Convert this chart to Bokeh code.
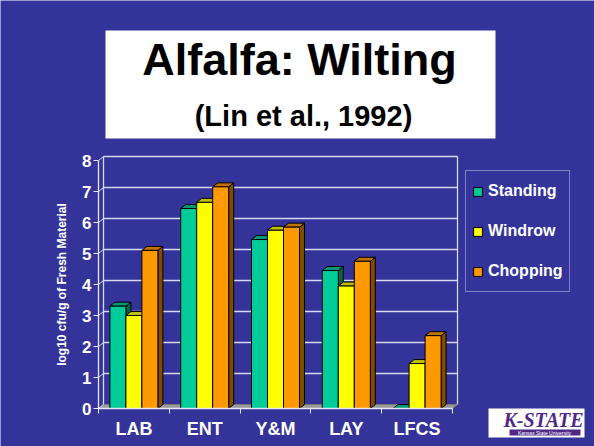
from bokeh.plotting import figure
from bokeh.models import Range1d, FixedTicker, Legend, LegendItem, Label, BoxAnnotation
from bokeh.embed import file_html
from bokeh.resources import INLINE

# ---- data ----
categories = ["LAB", "ENT", "Y&M", "LAY", "LFCS"]
series_names = ["Standing", "Windrow", "Chopping"]
standing = [3.3, 6.45, 5.45, 4.45, 0.0]
windrow = [3.0, 6.65, 5.75, 3.95, 1.45]
chopping = [5.1, 7.15, 5.85, 4.75, 2.35]
y_ticks = [0, 1, 2, 3, 4, 5, 6, 7, 8]
title_text = "Alfalfa: Wilting"
subtitle_text = "(Lin et al., 1992)"
y_title = "log10 cfu/g of Fresh Material"
logo_text = "K-STATE"
logo_sub = "Kansas State University"

series_values = [standing, windrow, chopping]

# ---- styles / layout ----
BG = "#333399"
front_colors = ["#00CC99", "#FFFF00", "#FF9900"]
top_colors = ["#009975", "#BFBF00", "#BF7300"]
side_colors = ["#00664C", "#808000", "#7F4C00"]
FONT = "Liberation Sans"
PURPLE = "#512888"

W, H = 594, 446
n = len(categories)
X0_PX, X1_PX = 98.0, 452.0      # pixel position of category axis ends
Y0_PX = 408.0                   # pixel position of value 0
YS = 31.0                       # px per value unit
XS = (X1_PX - X0_PX) / n        # px per category unit
DX = 5.0 / XS                   # depth offset (x)
DY = 4.0 / YS                   # depth offset (y)
BW = 16.0 / XS                  # bar width
BASE_SHIFT = 0.4                # label baseline correction (em)

def px(xp):
    return (xp - X0_PX) / XS

def py(yp):
    return (Y0_PX - yp) / YS

def text_label(x_px, base_px, text, size, font=FONT, style="bold", color="black"):
    return Label(x=px(x_px), y=py(base_px - BASE_SHIFT * size), text=text,
                 text_align="center", text_baseline="alphabetic", text_font=font,
                 text_font_style=style, text_font_size=f"{size}px", text_color=color)

p = figure(width=W, height=H, output_backend="svg", toolbar_location=None,
           x_range=Range1d(px(0), px(W)), y_range=Range1d(py(H), py(0)),
           min_border=0)
p.min_border_left = 0
p.min_border_right = 0
p.min_border_top = 0
p.min_border_bottom = 0
p.background_fill_color = BG
p.border_fill_color = BG
p.outline_line_color = None
p.xgrid.visible = False
p.ygrid.visible = False

# ---- floor and back wall ----
p.patch([0, n, n + DX, DX], [0, 0, DY, DY], fill_color="#9A9A9A",
        line_color="#7A7A7A", line_width=1)
wall_col = "#D8D8F0"
gt = [t for t in y_ticks if t > 0]
p.segment(x0=[DX] * len(gt), y0=[t + DY for t in gt], x1=[n + DX] * len(gt),
          y1=[t + DY for t in gt], line_color=wall_col, line_width=1.3)
p.segment(x0=[0] * len(y_ticks), y0=y_ticks, x1=[DX] * len(y_ticks),
          y1=[t + DY for t in y_ticks], line_color=wall_col, line_width=1)
p.segment(x0=[DX, n + DX], y0=[DY, DY], x1=[DX, n + DX],
          y1=[max(y_ticks) + DY] * 2, line_color=wall_col, line_width=1.3)

# ---- 3D bars ----
offsets = [-BW, 0.0, BW]
geo = []
for j, vals in enumerate(series_values):
    xs_c = [i + 0.5 + offsets[j] for i in range(n)]
    geo.append((xs_c, vals))

for j, (xs_c, vals) in enumerate(geo):
    sx, sy = [], []
    for xc, v in zip(xs_c, vals):
        x1 = xc + BW / 2
        sx.append([x1, x1, x1 + DX, x1 + DX])
        sy.append([0, v, v + DY, DY])
    p.patches(sx, sy, fill_color=side_colors[j], line_color="black", line_width=1)
for j, (xs_c, vals) in enumerate(geo):
    tx, ty = [], []
    for xc, v in zip(xs_c, vals):
        x0 = xc - BW / 2
        x1 = xc + BW / 2
        tx.append([x0, x1, x1 + DX, x0 + DX])
        ty.append([v, v, v + DY, v + DY])
    p.patches(tx, ty, fill_color=top_colors[j], line_color="black", line_width=1)
fronts = []
for j, (xs_c, vals) in enumerate(geo):
    r = p.vbar(x=xs_c, width=BW, top=vals, bottom=0, fill_color=front_colors[j],
               line_color="black", line_width=1)
    fronts.append(r)

# ---- axes (drawn at fixed positions inside the full-canvas frame) ----
ya = p.yaxis[0]
ya.fixed_location = 0
ya.ticker = FixedTicker(ticks=y_ticks)
ya.bounds = (min(y_ticks), max(y_ticks))
ya.axis_line_color = "#E8E8F8"
ya.axis_line_width = 1.3
ya.major_tick_line_color = "#E8E8F8"
ya.major_tick_out = 5
ya.major_tick_in = 0
ya.minor_tick_line_color = None
ya.major_label_standoff = 2
ya.major_label_text_font = FONT
ya.major_label_text_font_style = "bold"
ya.major_label_text_font_size = "17px"
ya.major_label_text_color = "white"
ya.axis_label = y_title
ya.axis_label_text_font = FONT
ya.axis_label_text_font_style = "bold"
ya.axis_label_text_font_size = "12px"
ya.axis_label_text_color = "white"
ya.axis_label_standoff = 10

xa = p.xaxis[0]
xa.fixed_location = 0
xa.ticker = FixedTicker(ticks=[i + 0.5 for i in range(n)],
                        minor_ticks=list(range(n + 1)))
xa.major_label_overrides = {i + 0.5: c for i, c in enumerate(categories)}
xa.bounds = (0, n)
xa.axis_line_color = "#E8E8F8"
xa.axis_line_width = 1.3
xa.major_tick_line_color = None
xa.major_tick_out = 0
xa.major_tick_in = 0
xa.minor_tick_line_color = "#E8E8F8"
xa.minor_tick_out = 5
xa.minor_tick_in = 0
xa.major_label_standoff = 5
xa.major_label_text_font = FONT
xa.major_label_text_font_style = "bold"
xa.major_label_text_font_size = "18px"
xa.major_label_text_color = "white"

# ---- legend ----
legend = Legend(items=[LegendItem(label=s, renderers=[r]) for s, r in zip(series_names, fronts)],
                location=(465, H - 292))
legend.border_line_color = "#D0D0E8"
legend.border_line_width = 1
legend.background_fill_alpha = 0
legend.padding = 6
legend.spacing = 12
legend.margin = 0
legend.label_height = 28
legend.glyph_height = 11
legend.glyph_width = 11
legend.label_standoff = 5
legend.label_text_font = FONT
legend.label_text_font_style = "bold"
legend.label_text_font_size = "16px"
legend.label_text_color = "white"
p.add_layout(legend, "center")

# ---- title box ----
p.add_layout(BoxAnnotation(left=px(105), right=px(495), top=py(30), bottom=py(138),
                           fill_color="white", fill_alpha=1.0, line_color=None,
                           level="underlay"))
p.add_layout(text_label(299, 77, title_text, 45))
p.add_layout(text_label(303, 127, subtitle_text, 29))

# ---- logo ----
p.add_layout(BoxAnnotation(left=px(488), right=px(584), top=py(408), bottom=py(437),
                           fill_color="white", fill_alpha=1.0, line_color=None,
                           level="underlay"))
p.add_layout(text_label(543, 427, logo_text, 20, font="Liberation Serif",
                        style="bold italic", color=PURPLE))
p.add_layout(BoxAnnotation(left=px(509), right=px(580), top=py(429), bottom=py(435),
                           fill_color=PURPLE, fill_alpha=1.0, line_color=None,
                           level="underlay"))
p.add_layout(text_label(544, 434, logo_sub, 5, style="normal", color="white"))

open("out.html", "w").write(file_html(p, INLINE))
